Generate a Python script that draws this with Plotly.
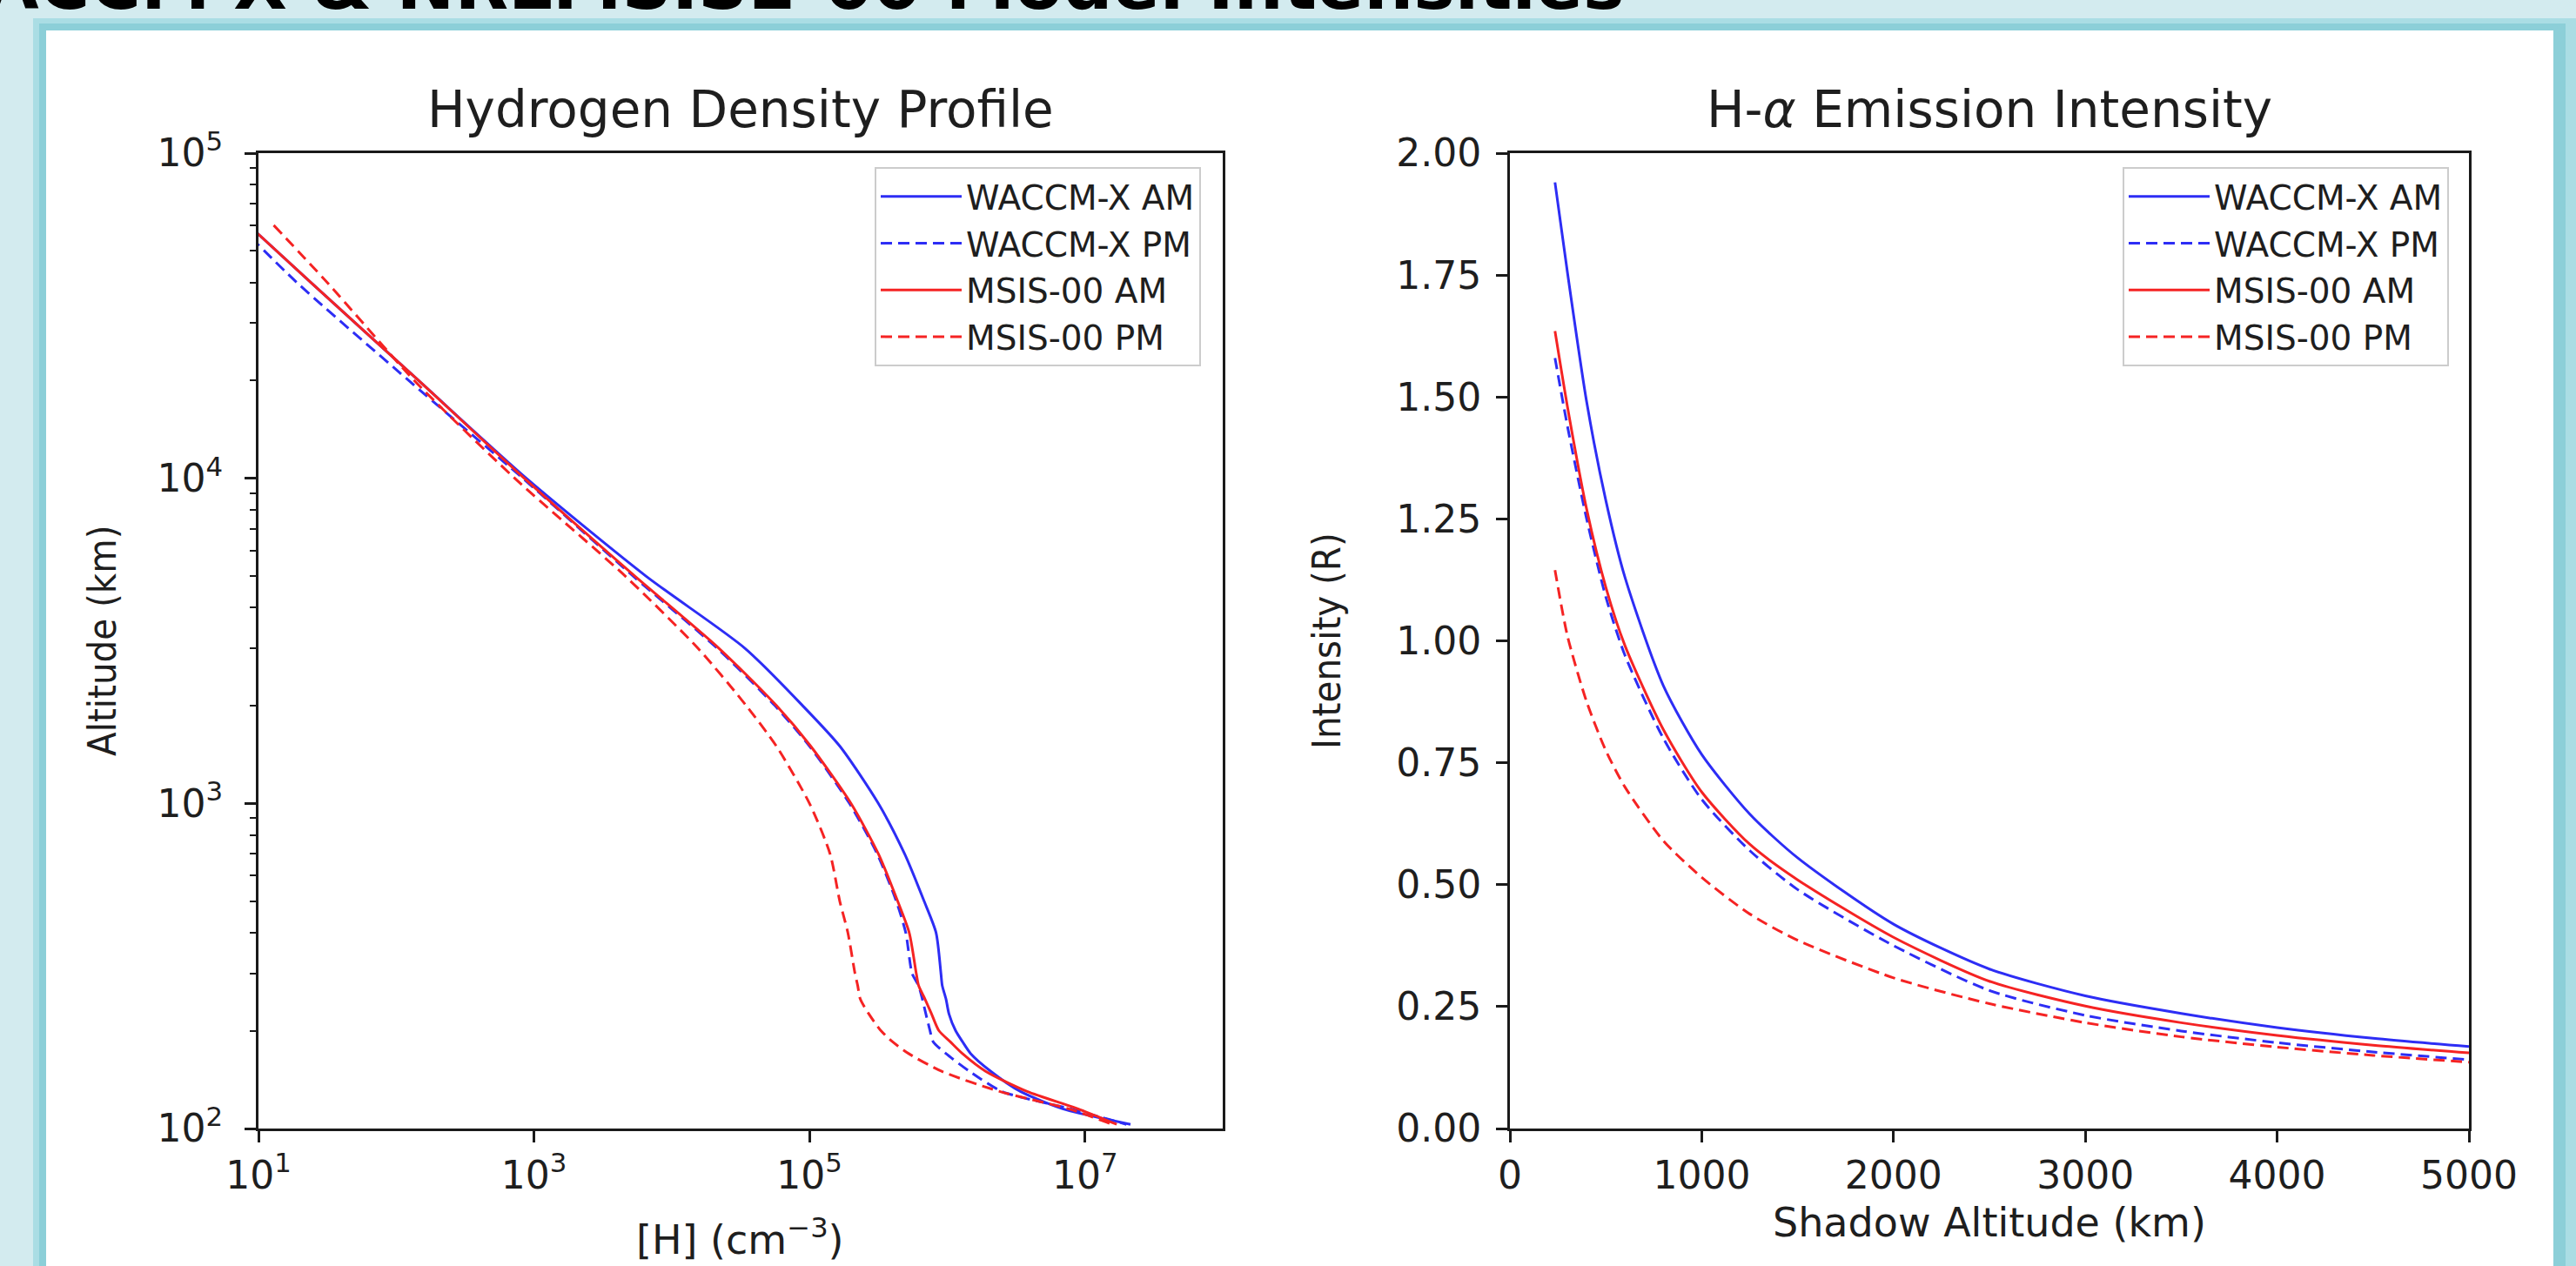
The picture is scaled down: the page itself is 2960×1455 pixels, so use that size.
import plotly.graph_objects as go

# ---------------- data ----------------
# Left panel: hydrogen density profile
alt_km = [60000, 40000, 20000, 10000, 5000, 3000, 2000, 1500, 1000, 700,
          500, 400, 300, 275, 250, 225, 200, 185, 170, 150, 130, 115, 103]
waccm_am_H = [8.5, 24, 145, 880, 6.5e3, 3.4e4, 8.9e4, 1.66e5, 3.16e5, 4.9e5,
              6.8e5, 8.3e5, 9.0e5, 9.2e5, 9.8e5, 1.03e6, 1.15e6, 1.29e6, 1.48e6,
              2.07e6, 3.4e6, 6.9e6, 2.14e7]
waccm_pm_H = [7.2, 19, 123, 830, 5.25e3, 2.14e4, 5.6e4, 1.0e5, 1.95e5, 3.1e5,
              4.27e5, 5.0e5, 5.56e5, 6.2e5, 6.6e5, 7.0e5, 7.5e5, 7.9e5, 9.8e5,
              1.45e6, 2.5e6, 7.8e6, 2.0e7]
msis_am_H = [8.5, 24, 145, 850, 5.4e3, 2.2e4, 5.75e4, 1.02e5, 2.0e5, 3.16e5,
             4.37e5, 5.3e5, 5.96e5, 6.2e5, 6.9e5, 7.7e5, 8.7e5, 1.05e6, 1.29e6,
             1.9e6, 3.8e6, 8.9e6, 1.7e7]
msis_pm_H = [12.9, 31.6, 135, 725, 4.6e3, 1.55e4, 3.47e4, 5.75e4, 1.0e5, 1.41e5,
             1.66e5, 1.9e5, 2.14e5, 2.24e5, 2.34e5, 2.7e5, 3.3e5, 4.0e5, 5.25e5,
             9.1e5, 2.4e6, 7.6e6, 1.58e7]

# Right panel: H-alpha emission intensity
shadow_alt_km = [235, 300, 400, 500, 600, 800, 1000, 1250, 1500, 2000,
                 2500, 3000, 3500, 4000, 4500, 5000]
waccm_am_I = [1.94, 1.755, 1.49, 1.288, 1.13, 0.908, 0.767, 0.645, 0.555, 0.419,
              0.327, 0.272, 0.236, 0.207, 0.185, 0.168]
waccm_pm_I = [1.58, 1.44, 1.25, 1.09, 0.97, 0.80, 0.675, 0.57, 0.49, 0.375,
              0.283, 0.232, 0.200, 0.176, 0.157, 0.141]
msis_am_I = [1.635, 1.48, 1.27, 1.11, 0.99, 0.818, 0.69, 0.583, 0.51, 0.392,
             0.302, 0.251, 0.217, 0.191, 0.171, 0.155]
msis_pm_I = [1.145, 1.01, 0.875, 0.775, 0.70, 0.59, 0.515, 0.44, 0.386, 0.309,
             0.256, 0.217, 0.188, 0.167, 0.150, 0.136]

series_names = ["WACCM-X AM", "WACCM-X PM", "MSIS-00 AM", "MSIS-00 PM"]

left_xticks = [1e1, 1e3, 1e5, 1e7]
left_xticktext = ["10<sup>1</sup>", "10<sup>3</sup>", "10<sup>5</sup>", "10<sup>7</sup>"]
left_yticks = [1e2, 1e3, 1e4, 1e5]
left_yticktext = ["10<sup>2</sup>", "10<sup>3</sup>", "10<sup>4</sup>", "10<sup>5</sup>"]
right_xticks = [0, 1000, 2000, 3000, 4000, 5000]
right_yticks = [0, 0.25, 0.5, 0.75, 1.0, 1.25, 1.5, 1.75, 2.0]

# ---------------- styling ----------------
W, H = 2960, 1455
FONT = "DejaVu Sans, Verdana, sans-serif"
FONT_COND = "DejaVu Sans Condensed, DejaVu Sans, sans-serif"
TXT = "#1e1e1e"
AX = "#1a1a1a"
BLUE = "rgb(45,45,245)"
RED = "rgb(245,35,35)"
DASH = "13px,7px"


def px(x):
    return x / W


def py(y):
    return (H - y) / H


styles = [
    dict(color=BLUE, width=3),
    dict(color=BLUE, width=3, dash=DASH),
    dict(color=RED, width=3),
    dict(color=RED, width=3, dash=DASH),
]

fig = go.Figure()

for name, xs, st in zip(series_names, [waccm_am_H, waccm_pm_H, msis_am_H, msis_pm_H], styles):
    fig.add_trace(go.Scatter(x=xs, y=alt_km, mode="lines", name=name,
                             line=dict(shape="spline", smoothing=0.7, **st),
                             xaxis="x", yaxis="y", legend="legend"))

for name, ys, st in zip(series_names, [waccm_am_I, waccm_pm_I, msis_am_I, msis_pm_I], styles):
    fig.add_trace(go.Scatter(x=shadow_alt_km, y=ys, mode="lines", name=name,
                             line=dict(shape="spline", smoothing=0.7, **st),
                             xaxis="x2", yaxis="y2", legend="legend2"))

axis_common = dict(showgrid=False, zeroline=False, showline=True, linecolor=AX,
                   linewidth=3, mirror=True, ticks="outside", ticklen=13,
                   tickwidth=3, tickcolor=AX, automargin=False,
                   tickfont=dict(family=FONT, size=44, color=TXT))

y_dom = [py(1297), py(176)]
minor_vals = [m * 10 ** e for e in (2, 3, 4) for m in range(2, 10)]

legend_common = dict(xanchor="right", yanchor="top",
                     bgcolor="rgba(255,255,255,0.9)", bordercolor="#cccccc",
                     borderwidth=2, font=dict(family=FONT, size=39, color=TXT),
                     itemwidth=93, traceorder="normal")

fig.update_layout(
    width=W, height=H,
    margin=dict(l=0, r=0, t=0, b=0, pad=0, autoexpand=False),
    paper_bgcolor="#d3ebef",
    plot_bgcolor="white",
    hovermode=False,
    xaxis=dict(domain=[px(297), px(1405)], anchor="y", type="log", range=[1, 8],
               tickmode="array", tickvals=left_xticks, ticktext=left_xticktext,
               **axis_common),
    yaxis=dict(domain=y_dom, anchor="x", type="log", range=[2, 5],
               tickmode="array", tickvals=left_yticks, ticktext=left_yticktext,
               ticklabelstandoff=16,
               minor=dict(tickmode="array", tickvals=minor_vals, ticks="outside",
                          ticklen=7, tickwidth=2, tickcolor=AX, showgrid=False),
               **axis_common),
    xaxis2=dict(domain=[px(1735), px(2837)], anchor="y2", range=[0, 5000],
                tickmode="array", tickvals=right_xticks, **axis_common),
    yaxis2=dict(domain=y_dom, anchor="x2", range=[0, 2],
                tickmode="array", tickvals=right_yticks, tickformat=".2f",
                ticklabelstandoff=8,
                **axis_common),
    legend=dict(x=px(1380), y=py(192), **legend_common),
    legend2=dict(x=px(2814), y=py(192), **legend_common),
    showlegend=True,
)

# Slide background: teal-framed white panel
fig.add_shape(type="rect", xref="paper", yref="paper", x0=px(38), x1=1.0,
              y0=-0.05, y1=py(21), fillcolor="#aadde4", line_width=0, layer="below")
fig.add_shape(type="rect", xref="paper", yref="paper", x0=px(45), x1=px(2948),
              y0=-0.05, y1=py(27), fillcolor="#8ccfd8", line_width=0, layer="below")
fig.add_shape(type="rect", xref="paper", yref="paper", x0=px(53), x1=px(2934),
              y0=-0.05, y1=py(35), fillcolor="white", line_width=0, layer="below")

annotations = [
    # slide heading, cut by the top edge
    dict(text="WACCM-X & NRLMSISE-00 Model Intensities", x=px(1868), y=py(30),
         xanchor="right", yanchor="bottom", showarrow=False, borderpad=0,
         font=dict(family=FONT, size=80, color="black", weight="bold")),
    # subplot titles
    dict(text="Hydrogen Density Profile", x=px(851), y=py(126), xanchor="center",
         yanchor="middle", showarrow=False,
         font=dict(family=FONT, size=58, color=TXT)),
    dict(text="H-<i>α</i> Emission Intensity", x=px(2286), y=py(126), xanchor="center",
         yanchor="middle", showarrow=False,
         font=dict(family=FONT, size=58, color=TXT)),
    # axis titles
    dict(text="[H] (cm<sup>−3</sup>)", x=px(851), y=py(1422), xanchor="center",
         yanchor="middle", showarrow=False,
         font=dict(family=FONT, size=46, color=TXT)),
    dict(text="Shadow Altitude (km)", x=px(2286), y=py(1405), xanchor="center",
         yanchor="middle", showarrow=False,
         font=dict(family=FONT, size=46, color=TXT)),
    dict(text="Altitude (km)", x=px(117), y=py(736), xanchor="center",
         yanchor="middle", textangle=-90, showarrow=False,
         font=dict(family=FONT_COND, size=45, color=TXT)),
    dict(text="Intensity (R)", x=px(1524), y=py(736), xanchor="center",
         yanchor="middle", textangle=-90, showarrow=False,
         font=dict(family=FONT_COND, size=45, color=TXT)),
]
for a in annotations:
    a.update(xref="paper", yref="paper")
fig.update_layout(annotations=annotations)

fig.write_html("out.html",
               config={"displayModeBar": False, "staticPlot": True},
               post_script="document.body.style.margin='0';"
                           "document.body.style.overflow='hidden';")
